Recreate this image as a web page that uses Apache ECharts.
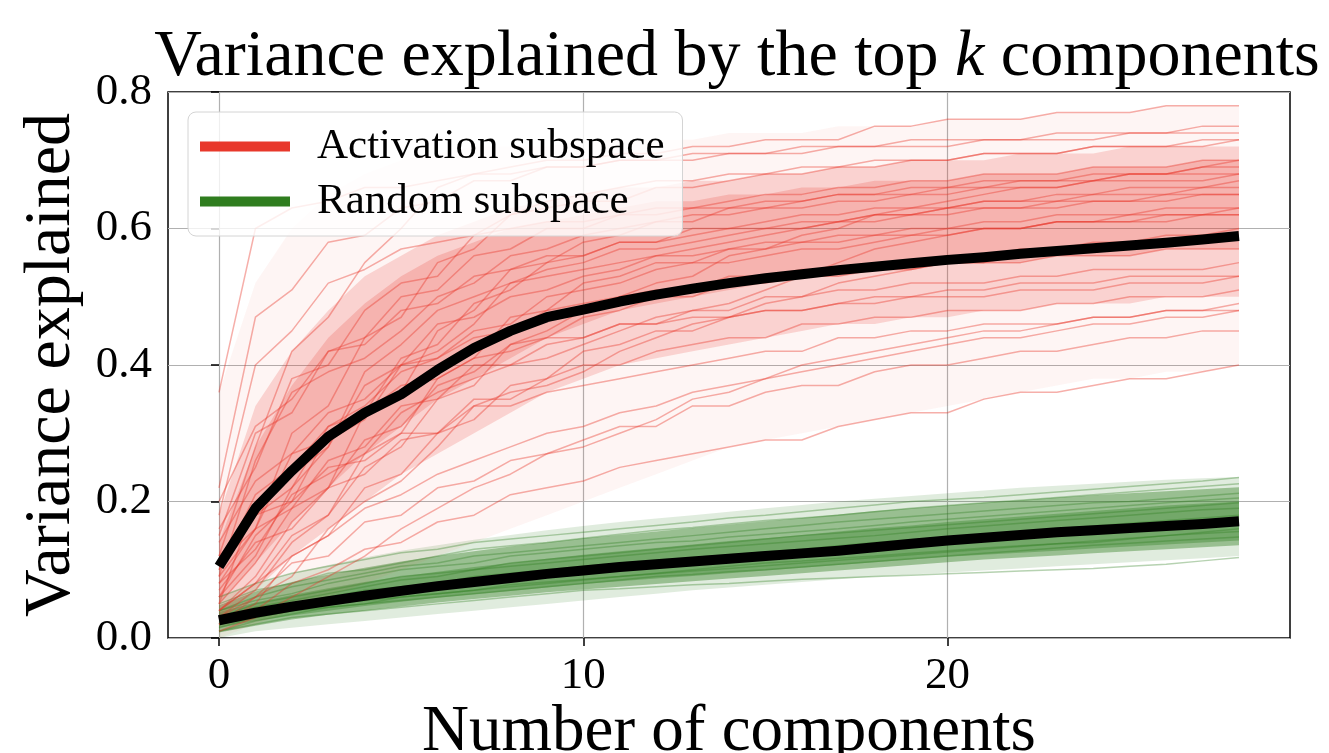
<!DOCTYPE html>
<html>
<head>
<meta charset="utf-8">
<script src="https://cdn.jsdelivr.net/npm/echarts@6/dist/echarts.min.js"></script>
<style>
  html, body { margin: 0; padding: 0; background: #fff; }
  #main { width: 1329px; height: 753px; }
</style>
</head>
<body>
<div id="main"></div>
<script>
// number of components k (x axis)
const components = [0,1,2,3,4,5,6,7,8,9,10,11,12,13,14,15,16,17,18,19,20,21,22,23,24,25,26,27,28];
const xTicks = [0, 10, 20];
const yTicks = [0, 0.2, 0.4, 0.6, 0.8];

// mean curves (thick black)
const actMean = [0.105,0.19,0.245,0.295,0.33,0.357,0.393,0.425,0.45,0.47,0.481,0.493,0.503,0.512,0.52,0.527,0.533,0.539,0.544,0.549,0.554,0.558,0.563,0.567,0.571,0.575,0.579,0.584,0.589];
const rndMean = [0.026,0.037,0.046,0.054,0.062,0.069,0.076,0.082,0.088,0.094,0.099,0.104,0.108,0.112,0.116,0.12,0.124,0.128,0.133,0.138,0.143,0.147,0.151,0.155,0.158,0.161,0.164,0.167,0.171];

// spread of the activation runs: full range, core, densest part
const actOuterLow  = [0.0,0.02,0.04,0.06,0.08,0.10,0.12,0.14,0.16,0.18,0.20,0.22,0.24,0.26,0.28,0.29,0.30,0.31,0.32,0.33,0.34,0.35,0.36,0.37,0.38,0.38,0.39,0.39,0.40];
const actOuterHigh = [0.36,0.52,0.60,0.65,0.68,0.70,0.71,0.72,0.72,0.72,0.73,0.73,0.73,0.73,0.74,0.74,0.74,0.75,0.75,0.75,0.76,0.76,0.76,0.77,0.77,0.77,0.78,0.78,0.78];
const actLow  = [0.03,0.07,0.12,0.16,0.20,0.24,0.27,0.30,0.33,0.36,0.38,0.40,0.41,0.42,0.43,0.44,0.45,0.46,0.46,0.47,0.47,0.48,0.48,0.49,0.49,0.49,0.50,0.50,0.50];
const actHigh = [0.18,0.34,0.42,0.48,0.53,0.56,0.59,0.61,0.63,0.64,0.65,0.66,0.66,0.67,0.67,0.68,0.68,0.69,0.69,0.70,0.70,0.70,0.71,0.71,0.71,0.72,0.72,0.72,0.72];
const actInnerLow  = [0.05,0.11,0.17,0.22,0.27,0.31,0.35,0.38,0.41,0.44,0.46,0.48,0.49,0.50,0.51,0.52,0.53,0.53,0.54,0.54,0.55,0.55,0.55,0.56,0.56,0.56,0.57,0.57,0.57];
const actInnerHigh = [0.14,0.28,0.37,0.44,0.49,0.53,0.56,0.58,0.60,0.61,0.62,0.63,0.64,0.64,0.65,0.65,0.66,0.66,0.67,0.67,0.67,0.68,0.68,0.68,0.69,0.69,0.69,0.70,0.70];

// spread of the random runs: full range, core, densest part
const rndOuterLow  = [0.0,0.01,0.015,0.02,0.025,0.03,0.035,0.04,0.045,0.05,0.055,0.06,0.065,0.07,0.074,0.078,0.082,0.086,0.09,0.093,0.096,0.099,0.102,0.105,0.108,0.111,0.114,0.117,0.12];
const rndOuterHigh = [0.06,0.08,0.095,0.107,0.118,0.128,0.136,0.144,0.151,0.158,0.164,0.17,0.175,0.18,0.185,0.19,0.195,0.2,0.204,0.208,0.212,0.216,0.22,0.223,0.226,0.229,0.232,0.234,0.236];
const rndLow  = [0.008,0.018,0.027,0.034,0.04,0.046,0.052,0.057,0.062,0.067,0.071,0.075,0.079,0.083,0.087,0.091,0.095,0.099,0.103,0.107,0.111,0.115,0.118,0.121,0.124,0.127,0.13,0.133,0.136];
const rndHigh = [0.048,0.068,0.082,0.093,0.103,0.112,0.12,0.127,0.134,0.14,0.146,0.151,0.156,0.161,0.166,0.171,0.176,0.181,0.186,0.19,0.194,0.198,0.202,0.206,0.209,0.212,0.215,0.218,0.221];
const rndInnerLow  = [0.015,0.025,0.033,0.04,0.047,0.053,0.059,0.064,0.069,0.074,0.079,0.083,0.087,0.091,0.095,0.099,0.103,0.107,0.111,0.115,0.119,0.122,0.125,0.128,0.131,0.134,0.137,0.14,0.143];
const rndInnerHigh = [0.038,0.052,0.063,0.073,0.082,0.09,0.097,0.104,0.11,0.116,0.122,0.127,0.132,0.137,0.142,0.146,0.151,0.156,0.161,0.165,0.17,0.174,0.178,0.182,0.186,0.19,0.194,0.197,0.2];

// individual activation-subspace runs (thin red)
const act01 = [0.36,0.60,0.63,0.64,0.66,0.66,0.67,0.68,0.68,0.69,0.69,0.70,0.70,0.70,0.71,0.71,0.71,0.72,0.72,0.72,0.72,0.73,0.73,0.73,0.73,0.74,0.74,0.74,0.74];
const act02 = [0.12,0.28,0.42,0.47,0.55,0.60,0.66,0.68,0.69,0.70,0.70,0.71,0.71,0.72,0.72,0.73,0.73,0.73,0.75,0.75,0.76,0.76,0.76,0.77,0.77,0.77,0.78,0.78,0.78];
const act03 = [0.08,0.16,0.30,0.34,0.44,0.47,0.55,0.57,0.62,0.63,0.64,0.64,0.66,0.66,0.67,0.68,0.68,0.69,0.69,0.70,0.70,0.71,0.71,0.71,0.72,0.72,0.72,0.73,0.73];
const act04 = [0.15,0.30,0.33,0.42,0.44,0.50,0.51,0.56,0.57,0.60,0.60,0.62,0.63,0.63,0.64,0.65,0.65,0.66,0.66,0.67,0.67,0.68,0.68,0.68,0.69,0.69,0.69,0.70,0.70];
const act05 = [0.04,0.09,0.17,0.22,0.33,0.36,0.45,0.48,0.54,0.55,0.58,0.59,0.61,0.61,0.63,0.63,0.64,0.65,0.65,0.65,0.66,0.66,0.67,0.67,0.67,0.68,0.68,0.68,0.68];
const act06 = [0.20,0.31,0.35,0.42,0.43,0.48,0.49,0.53,0.54,0.56,0.56,0.58,0.58,0.59,0.60,0.60,0.61,0.61,0.62,0.62,0.62,0.63,0.63,0.63,0.64,0.64,0.64,0.65,0.65];
const act07 = [0.06,0.15,0.20,0.30,0.33,0.41,0.43,0.49,0.51,0.55,0.56,0.58,0.58,0.60,0.60,0.61,0.62,0.62,0.63,0.63,0.63,0.64,0.64,0.64,0.65,0.65,0.65,0.66,0.66];
const act08 = [0.10,0.18,0.22,0.31,0.34,0.39,0.41,0.45,0.46,0.50,0.51,0.52,0.54,0.55,0.55,0.56,0.57,0.57,0.58,0.59,0.59,0.60,0.60,0.61,0.61,0.61,0.62,0.62,0.62];
const act09 = [0.03,0.07,0.14,0.18,0.27,0.30,0.38,0.41,0.47,0.48,0.52,0.53,0.55,0.55,0.57,0.57,0.58,0.58,0.59,0.59,0.60,0.60,0.60,0.61,0.61,0.61,0.61,0.62,0.62];
const act10 = [0.14,0.23,0.27,0.33,0.35,0.40,0.41,0.44,0.45,0.48,0.49,0.50,0.51,0.51,0.53,0.53,0.54,0.54,0.55,0.55,0.56,0.56,0.57,0.57,0.57,0.58,0.58,0.58,0.59];
const act11 = [0.05,0.11,0.19,0.22,0.29,0.31,0.37,0.39,0.43,0.44,0.47,0.48,0.50,0.50,0.52,0.52,0.53,0.53,0.54,0.54,0.55,0.55,0.55,0.56,0.56,0.56,0.57,0.57,0.57];
const act12 = [0.09,0.16,0.19,0.26,0.28,0.34,0.35,0.40,0.40,0.43,0.44,0.46,0.46,0.48,0.48,0.50,0.50,0.51,0.51,0.52,0.52,0.52,0.53,0.53,0.54,0.54,0.54,0.54,0.55];
const act13 = [0.02,0.05,0.12,0.15,0.22,0.24,0.30,0.32,0.37,0.38,0.42,0.43,0.45,0.45,0.47,0.48,0.48,0.49,0.50,0.50,0.51,0.51,0.52,0.52,0.52,0.53,0.53,0.53,0.53];
const act14 = [0.07,0.14,0.16,0.22,0.24,0.29,0.30,0.35,0.35,0.38,0.40,0.40,0.42,0.43,0.44,0.44,0.46,0.46,0.47,0.47,0.48,0.48,0.48,0.49,0.49,0.50,0.50,0.50,0.51];
const act15 = [0.12,0.18,0.20,0.25,0.26,0.30,0.30,0.34,0.34,0.36,0.37,0.38,0.39,0.40,0.41,0.42,0.42,0.44,0.44,0.45,0.45,0.46,0.46,0.46,0.47,0.47,0.48,0.48,0.48];
const act16 = [0.03,0.06,0.11,0.12,0.17,0.18,0.22,0.23,0.26,0.27,0.29,0.31,0.31,0.34,0.34,0.36,0.37,0.37,0.39,0.40,0.40,0.41,0.42,0.42,0.43,0.44,0.44,0.45,0.45];
const act17 = [0.02,0.04,0.08,0.10,0.13,0.14,0.17,0.18,0.21,0.22,0.23,0.25,0.26,0.27,0.28,0.29,0.29,0.31,0.32,0.33,0.33,0.35,0.36,0.36,0.37,0.38,0.38,0.39,0.40];
const act18 = [0.18,0.40,0.45,0.52,0.54,0.57,0.58,0.59,0.60,0.61,0.61,0.62,0.62,0.63,0.63,0.64,0.64,0.65,0.65,0.66,0.66,0.67,0.67,0.67,0.68,0.68,0.68,0.69,0.69];
const act19 = [0.06,0.12,0.22,0.28,0.39,0.43,0.48,0.50,0.52,0.53,0.54,0.55,0.56,0.56,0.57,0.58,0.58,0.59,0.59,0.60,0.60,0.61,0.61,0.62,0.62,0.62,0.63,0.63,0.63];
const act20 = [0.04,0.08,0.15,0.18,0.25,0.28,0.35,0.37,0.43,0.45,0.48,0.50,0.52,0.53,0.56,0.57,0.59,0.60,0.62,0.63,0.64,0.65,0.66,0.66,0.67,0.68,0.68,0.69,0.70];
const act21 = [0.10,0.21,0.25,0.31,0.33,0.37,0.38,0.41,0.42,0.44,0.44,0.46,0.46,0.47,0.47,0.48,0.48,0.49,0.49,0.50,0.50,0.50,0.51,0.51,0.51,0.52,0.52,0.52,0.53];
const act22 = [0.22,0.47,0.51,0.58,0.59,0.63,0.64,0.67,0.67,0.69,0.69,0.70,0.70,0.71,0.71,0.71,0.72,0.72,0.72,0.73,0.73,0.73,0.73,0.74,0.74,0.74,0.74,0.75,0.75];
const act23 = [0.01,0.03,0.06,0.09,0.12,0.16,0.19,0.22,0.24,0.27,0.28,0.30,0.32,0.35,0.36,0.38,0.39,0.40,0.41,0.42,0.43,0.44,0.44,0.45,0.46,0.46,0.47,0.47,0.48];
const act24 = [0.08,0.13,0.21,0.24,0.27,0.33,0.36,0.38,0.40,0.41,0.43,0.45,0.47,0.48,0.49,0.51,0.53,0.55,0.57,0.58,0.59,0.60,0.60,0.61,0.61,0.62,0.62,0.62,0.63];
const act25 = [0.16,0.25,0.38,0.40,0.48,0.52,0.53,0.59,0.62,0.64,0.65,0.66,0.67,0.67,0.68,0.68,0.69,0.69,0.70,0.70,0.70,0.71,0.71,0.71,0.72,0.72,0.72,0.72,0.73];
const act26 = [0.05,0.20,0.24,0.28,0.37,0.40,0.46,0.47,0.50,0.51,0.53,0.54,0.56,0.57,0.58,0.59,0.60,0.61,0.61,0.62,0.63,0.64,0.64,0.65,0.65,0.66,0.66,0.66,0.67];
const act27 = [0.11,0.16,0.27,0.29,0.32,0.40,0.42,0.46,0.52,0.54,0.55,0.57,0.57,0.58,0.59,0.60,0.60,0.61,0.62,0.62,0.63,0.63,0.63,0.64,0.64,0.64,0.65,0.65,0.65];
const act28 = [0.02,0.06,0.09,0.16,0.20,0.23,0.28,0.34,0.36,0.37,0.39,0.42,0.44,0.46,0.47,0.49,0.50,0.52,0.53,0.54,0.55,0.55,0.56,0.57,0.58,0.58,0.59,0.59,0.60];
const act29 = [0.09,0.26,0.36,0.39,0.41,0.45,0.50,0.52,0.56,0.57,0.59,0.60,0.61,0.62,0.62,0.63,0.63,0.64,0.64,0.65,0.65,0.66,0.66,0.66,0.67,0.67,0.67,0.67,0.68];
const act30 = [0.04,0.08,0.12,0.15,0.19,0.21,0.24,0.26,0.28,0.30,0.31,0.33,0.34,0.36,0.37,0.38,0.40,0.41,0.42,0.43,0.44,0.45,0.45,0.46,0.47,0.47,0.48,0.48,0.49];

// individual random-subspace runs (thin green)
const rnd01 = [0.05,0.07,0.08,0.095,0.10,0.11,0.12,0.13,0.135,0.14,0.146,0.152,0.158,0.162,0.167,0.172,0.176,0.18,0.185,0.19,0.194,0.198,0.202,0.206,0.21,0.214,0.218,0.222,0.226];
const rnd02 = [0.03,0.05,0.06,0.07,0.08,0.09,0.095,0.10,0.11,0.115,0.12,0.125,0.13,0.135,0.14,0.145,0.15,0.154,0.158,0.162,0.166,0.17,0.174,0.178,0.182,0.186,0.19,0.194,0.198];
const rnd03 = [0.02,0.03,0.04,0.05,0.055,0.06,0.065,0.07,0.075,0.08,0.085,0.09,0.094,0.098,0.102,0.106,0.11,0.114,0.118,0.122,0.126,0.13,0.134,0.138,0.142,0.146,0.15,0.153,0.156];
const rnd04 = [0.01,0.02,0.03,0.035,0.04,0.045,0.05,0.055,0.06,0.065,0.07,0.072,0.075,0.078,0.08,0.083,0.086,0.088,0.09,0.092,0.094,0.096,0.098,0.10,0.102,0.105,0.108,0.113,0.118];
const rnd05 = [0.04,0.06,0.075,0.085,0.095,0.105,0.11,0.12,0.125,0.13,0.135,0.14,0.145,0.15,0.155,0.16,0.165,0.17,0.174,0.178,0.182,0.186,0.19,0.194,0.198,0.20,0.204,0.208,0.212];
const rnd06 = [0.02,0.04,0.05,0.06,0.07,0.075,0.08,0.085,0.09,0.095,0.10,0.105,0.11,0.115,0.12,0.124,0.128,0.132,0.136,0.14,0.144,0.148,0.152,0.155,0.158,0.162,0.166,0.17,0.174];
const rnd07 = [0.06,0.08,0.095,0.105,0.115,0.125,0.13,0.14,0.145,0.15,0.155,0.16,0.165,0.17,0.176,0.18,0.185,0.19,0.195,0.20,0.203,0.206,0.21,0.214,0.218,0.222,0.226,0.23,0.235];
const rnd08 = [0.01,0.025,0.035,0.045,0.05,0.055,0.06,0.065,0.07,0.075,0.08,0.085,0.09,0.093,0.097,0.10,0.104,0.108,0.112,0.116,0.12,0.124,0.128,0.132,0.136,0.139,0.142,0.145,0.148];
const rnd09 = [0.03,0.045,0.055,0.065,0.075,0.085,0.09,0.10,0.105,0.11,0.115,0.12,0.125,0.13,0.134,0.138,0.142,0.146,0.15,0.155,0.16,0.164,0.168,0.172,0.176,0.18,0.184,0.188,0.19];
const rnd10 = [0.02,0.035,0.05,0.06,0.065,0.075,0.08,0.09,0.095,0.10,0.105,0.11,0.114,0.118,0.122,0.126,0.13,0.135,0.14,0.144,0.148,0.152,0.156,0.16,0.164,0.168,0.172,0.176,0.18];
const rnd11 = [0.04,0.055,0.065,0.08,0.09,0.10,0.105,0.11,0.12,0.125,0.13,0.135,0.14,0.142,0.148,0.152,0.156,0.16,0.165,0.17,0.174,0.178,0.182,0.186,0.19,0.194,0.198,0.202,0.205];
const rnd12 = [0.015,0.03,0.04,0.045,0.05,0.06,0.065,0.07,0.078,0.082,0.086,0.09,0.095,0.10,0.105,0.11,0.113,0.117,0.12,0.124,0.128,0.132,0.135,0.138,0.14,0.145,0.15,0.155,0.16];

const actRuns = [act01,act02,act03,act04,act05,act06,act07,act08,act09,act10,act11,act12,act13,act14,act15,
                 act16,act17,act18,act19,act20,act21,act22,act23,act24,act25,act26,act27,act28,act29,act30];
const rndRuns = [rnd01,rnd02,rnd03,rnd04,rnd05,rnd06,rnd07,rnd08,rnd09,rnd10,rnd11,rnd12];

const redColor = '#e8382b';
const greenColor = '#2f7d1f';
const serif = '"Liberation Serif", "DejaVu Serif", serif';

const toPairs = vals => vals.map((v, i) => [components[i], v]);

// filled band between two curves, drawn once through the grid's scales
function bandSeries(low, high, color, opacity) {
  return {
    type: 'custom', silent: true,
    data: components.map((k, i) => [k, low[i], high[i]]),
    encode: { x: 0, y: [1, 2] },
    renderItem: function (params, api) {
      if (params.dataIndex !== 0) return null;
      const pts = [];
      components.forEach((k, i) => pts.push(api.coord([k, high[i]])));
      for (let i = components.length - 1; i >= 0; i--) pts.push(api.coord([components[i], low[i]]));
      return { type: 'polygon', shape: { points: pts }, style: { fill: color, opacity: opacity } };
    }
  };
}

var myChart = echarts.init(document.getElementById('main'));

const series = [];

// random subspace
series.push(bandSeries(rndOuterLow, rndOuterHigh, greenColor, 0.15));
series.push(bandSeries(rndLow, rndHigh, greenColor, 0.4));
series.push(bandSeries(rndInnerLow, rndInnerHigh, greenColor, 0.35));
rndRuns.forEach((run, i) => {
  series.push({
    name: 'rnd_' + i, type: 'line', data: toPairs(run), symbol: 'none', silent: true,
    lineStyle: { color: greenColor, width: 1.5, opacity: 0.35 }
  });
});

// activation subspace
series.push(bandSeries(actOuterLow, actOuterHigh, redColor, 0.05));
series.push(bandSeries(actLow, actHigh, redColor, 0.18));
series.push(bandSeries(actInnerLow, actInnerHigh, redColor, 0.2));
actRuns.forEach((run, i) => {
  series.push({
    name: 'act_' + i, type: 'line', data: toPairs(run), symbol: 'none', silent: true,
    lineStyle: { color: redColor, width: 1.5, opacity: 0.4 }
  });
});

// means
series.push({ name: 'act_mean', type: 'line', data: toPairs(actMean), symbol: 'none', silent: true, z: 5,
  lineStyle: { color: '#000', width: 10, cap: 'butt', join: 'round' } });
series.push({ name: 'rnd_mean', type: 'line', data: toPairs(rndMean), symbol: 'none', silent: true, z: 5,
  lineStyle: { color: '#000', width: 10, cap: 'butt', join: 'round' } });

// legend entries only
series.push({ name: 'Activation subspace', type: 'line', data: [], itemStyle: { color: redColor }, lineStyle: { color: redColor } });
series.push({ name: 'Random subspace', type: 'line', data: [], itemStyle: { color: greenColor }, lineStyle: { color: greenColor } });

var option = {
  animation: false,
  backgroundColor: '#fff',
  title: {
    text: '{n|Variance explained by the top }{k|k}{n| components}',
    left: 732, top: 20, textAlign: 'center',
    textStyle: {
      rich: {
        n: { fontFamily: serif, fontSize: 66, fontWeight: 'normal', color: '#000' },
        k: { fontFamily: serif, fontSize: 66, fontWeight: 'normal', fontStyle: 'italic', color: '#000' }
      }
    }
  },
  legend: {
    orient: 'vertical',
    left: 188, top: 112,
    padding: [13, 18, 13, 12],
    itemGap: 12,
    itemWidth: 90, itemHeight: 10,
    backgroundColor: 'rgba(255,255,255,0.8)',
    borderColor: '#d4d4d4', borderWidth: 1, borderRadius: 8,
    selectedMode: false,
    textStyle: { fontFamily: serif, fontSize: 43, color: '#000', padding: [0, 0, 0, 22] },
    data: [
      { name: 'Activation subspace', icon: 'rect', itemStyle: { color: redColor } },
      { name: 'Random subspace', icon: 'rect', itemStyle: { color: greenColor } }
    ]
  },
  grid: {
    left: 168, right: 39, top: 92, bottom: 115,
    outerBoundsMode: 'none',
    show: true, borderColor: '#000', borderWidth: 1.5, backgroundColor: 'transparent'
  },
  xAxis: {
    type: 'value', min: -1.4, max: 29.4, splitNumber: 3,
    name: 'Number of components', nameLocation: 'middle', nameGap: 62, nameMoveOverlap: false,
    nameTextStyle: { fontFamily: serif, fontSize: 65, color: '#000' },
    axisLine: { show: false },
    axisTick: { show: true, customValues: xTicks, length: 8, lineStyle: { color: '#000', width: 1.5 } },
    axisLabel: { customValues: xTicks, fontFamily: serif, fontSize: 45, color: '#000', margin: 16 },
    splitLine: { show: true, lineStyle: { color: '#b0b0b0', width: 1.2 } }
  },
  yAxis: {
    type: 'value', min: 0, max: 0.8, interval: 0.2,
    name: 'Variance explained', nameLocation: 'middle', nameGap: 80, nameRotate: 90,
    nameTextStyle: { fontFamily: serif, fontSize: 66, color: '#000' },
    axisLine: { show: false },
    axisTick: { show: true, length: 8, lineStyle: { color: '#000', width: 1.5 } },
    axisLabel: { customValues: yTicks, fontFamily: serif, fontSize: 45, color: '#000', margin: 16, formatter: v => v.toFixed(1) },
    splitLine: { show: true, lineStyle: { color: '#b0b0b0', width: 1.2 } }
  },
  series: series
};

myChart.setOption(option);
</script>
</body>
</html>
